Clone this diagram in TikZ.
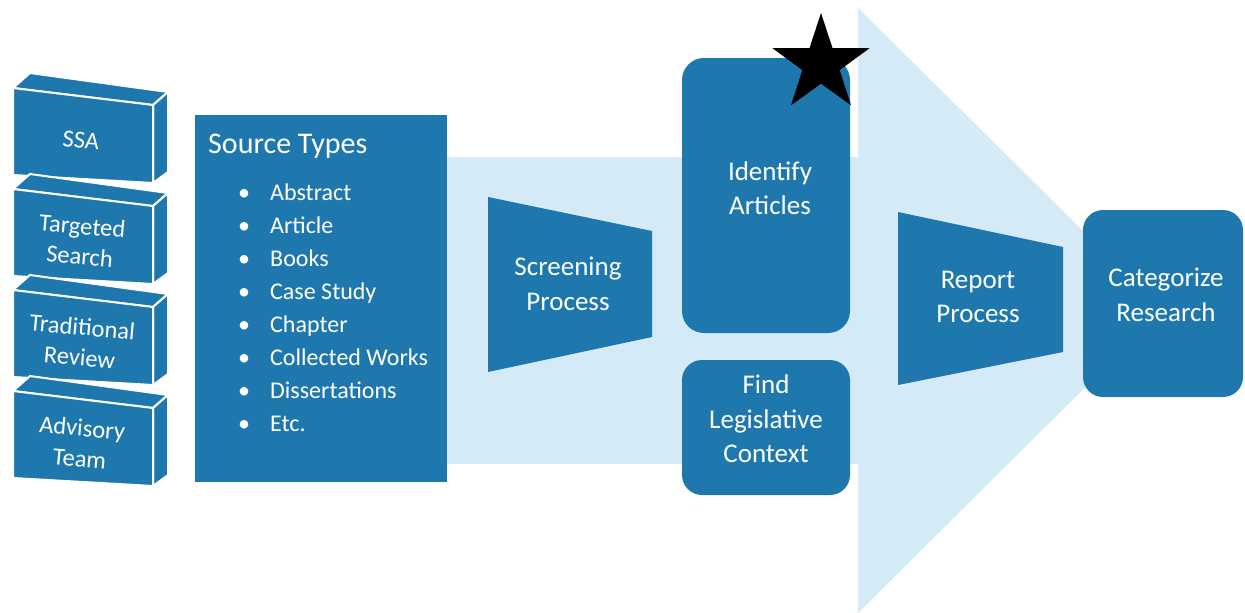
\documentclass[tikz,border=0pt]{standalone}
\usepackage{fontspec}
\setmainfont{Carlito}
\usetikzlibrary{positioning,shapes.geometric}
\definecolor{darkblue}{RGB}{30,120,174}
\definecolor{paleblue}{RGB}{212,234,247}

\begin{document}
\begin{tikzpicture}
    [x=1pt, y=-1pt, every node/.style={text=white, inner sep=0pt},
     boxtext/.style={align=center, font=\fontsize{27}{34.5}\selectfont},
     blocktext/.style={align=center, rotate=-5, font=\fontsize{24.5}{30.5}\selectfont},
     itemtext/.style={anchor=base west, font=\fontsize{24}{28}\selectfont},
     face/.style={fill=darkblue, draw=white, line width=2pt, line join=round}]
    \useasboundingbox (0,0) rectangle (1245,613);

    % light flow band and big arrow
    \fill[paleblue] (440,157) rectangle (858,464);
    \fill[paleblue] (858,8) -- (1163,310) -- (858,613) -- cycle;

    % stacked 3d blocks on the left
    \foreach \t/\name/\txt in {88/ssa/SSA, 189/targeted/Targeted\\Search,
                               290/traditional/Traditional\\Review, 391/advisory/Advisory\\Team}{
        \draw[face] (13,\t) -- (30,\t-15) -- (168,\t+4) -- (153,\t+17) -- cycle;
        \draw[face] (153,\t+17) -- (168,\t+4) -- (168,\t+84) -- (153,\t+95) -- cycle;
        \draw[face] (13,\t) -- (153,\t+17) -- (153,\t+95) -- (13,\t+87) -- cycle;
        \node[blocktext] (\name) at (81,\t+52) {\txt};
    }

    % source types
    \node[fill=darkblue, minimum width=252, minimum height=367, anchor=north west] (src) at (195,115) {};
    \node[anchor=base west, font=\fontsize{30}{36}\selectfont] (srctitle) at (208,153) {Source Types};
    \foreach \txt [count=\i from 0] in {Abstract, Article, Books, Case Study, Chapter,
                                         Collected Works, Dissertations, Etc.}
        \node[itemtext] (item\i) at (238,200+33.1*\i) {\makebox[32pt][l]{\textbullet}\txt};

    % screening and report funnels
    \fill[darkblue] (488,197) -- (652,231) -- (652,337) -- (488,372) -- cycle;
    \node[boxtext] (screen) at (568,284) {Screening\\Process};
    \fill[darkblue] (898,212) -- (1063,247) -- (1063,352) -- (898,385) -- cycle;
    \node[boxtext] (report) at (978,297) {Report\\Process};

    % rounded boxes
    \fill[darkblue, rounded corners=22] (682,58) rectangle (850,333);
    \node[boxtext] (identify) at (770,188) {Identify\\Articles};
    \fill[darkblue, rounded corners=20] (682,360) rectangle (850,495);
    \node[boxtext] (legis) at (766,419) {Find\\Legislative\\Context};
    \fill[darkblue, rounded corners=20] (1083,210) rectangle (1243,397);
    \node[boxtext] (categ) at (1166,295) {Categorize\\Research};

    \node[star, star points=5, star point ratio=2.6, fill=black, minimum size=102] (mark) at (821,64) {};
\end{tikzpicture}
\end{document}
